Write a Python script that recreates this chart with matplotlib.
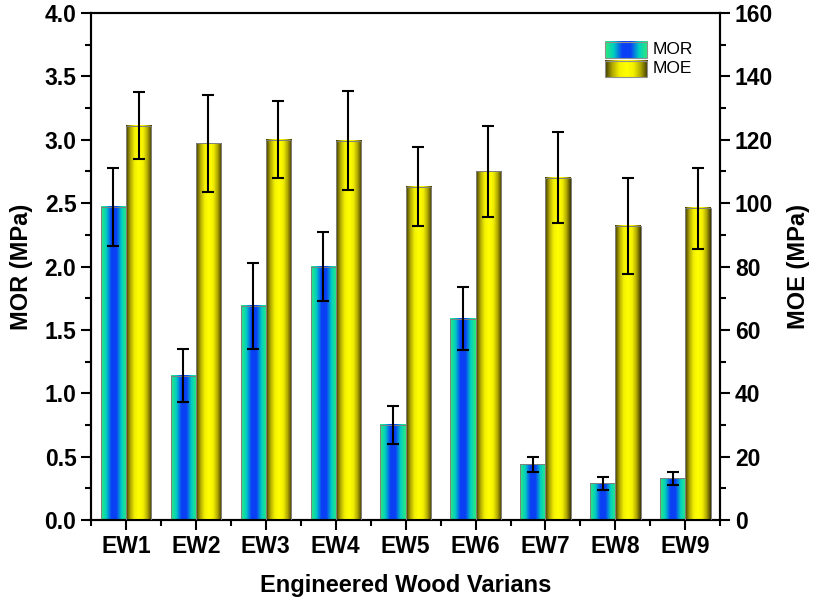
import numpy as np
import matplotlib.pyplot as plt
from matplotlib.colors import LinearSegmentedColormap
from matplotlib.ticker import MultipleLocator

plt.rcParams['font.family'] = ['Liberation Sans', 'DejaVu Sans']

groups = ['EW1', 'EW2', 'EW3', 'EW4', 'EW5', 'EW6', 'EW7', 'EW8', 'EW9']
mor = [2.47, 1.14, 1.69, 2.00, 0.75, 1.59, 0.44, 0.29, 0.33]
mor_err = [0.31, 0.21, 0.34, 0.27, 0.15, 0.25, 0.06, 0.05, 0.05]
moe = [124.4, 118.8, 120.0, 119.6, 105.2, 110.0, 108.0, 92.8, 98.4]
moe_err = [10.5, 15.2, 12.2, 15.6, 12.4, 14.4, 14.4, 15.2, 12.8]

mor_cmap = LinearSegmentedColormap.from_list(
    'mor', ['#30ea78', '#00d0c0', '#0a40f5', '#0a40f5', '#00d0c0', '#30ea78'])
moe_cmap = LinearSegmentedColormap.from_list(
    'moe', ['#3c3600', '#b0a800', '#f4f000', '#ffff00', '#f4f000',
            '#b0a800', '#3c3600'])
grad = np.linspace(0, 1, 128).reshape(1, -1)

width = 0.36


def gradient_bars(ax, xs, heights, cmap):
    for x, h in zip(xs, heights):
        ax.imshow(grad, extent=[x, x + width, 0, h], aspect='auto',
                  cmap=cmap, interpolation='bilinear', zorder=2)
        ax.add_patch(plt.Rectangle((x, 0), width, h, fill=False,
                                   edgecolor='#808080', lw=0.7, zorder=3))


fig = plt.figure(figsize=(8.27, 6.12), dpi=100)
ax = fig.add_axes([0.110, 0.150, 0.761, 0.829])
ax2 = ax.twinx()

x = np.arange(len(groups))
gradient_bars(ax, x - width, mor, mor_cmap)
gradient_bars(ax2, x, moe, moe_cmap)

ax.errorbar(x - width / 2, mor, yerr=mor_err, fmt='none', ecolor='black',
            elinewidth=1.5, capsize=4.5, capthick=1.5, zorder=4)
ax2.errorbar(x + width / 2, moe, yerr=moe_err, fmt='none', ecolor='black',
             elinewidth=1.5, capsize=4.5, capthick=1.5, zorder=4)

ax.set_xticks(x)
ax.set_xticklabels(groups)
ax.xaxis.set_minor_locator(MultipleLocator(1, offset=0.5))
ax.yaxis.set_major_locator(MultipleLocator(0.5))
ax.yaxis.set_minor_locator(MultipleLocator(0.25))
ax2.yaxis.set_major_locator(MultipleLocator(20))
ax2.yaxis.set_minor_locator(MultipleLocator(10))

for a in (ax, ax2):
    a.tick_params(which='major', direction='out', length=7, width=1.5,
                  labelsize=16.5)
    a.tick_params(which='minor', direction='out', length=4, width=1.5)
    for lab in a.get_xticklabels() + a.get_yticklabels():
        lab.set_fontweight('bold')
    for s in a.spines.values():
        s.set_linewidth(1.5)

ax.set_ylabel('MOR (MPa)', fontsize=17, fontweight='bold', labelpad=8)
ax2.set_ylabel('MOE (MPa)', fontsize=17, fontweight='bold', labelpad=10)
ax.set_xlabel('Engineered Wood Varians', fontsize=17, fontweight='bold',
              labelpad=12)

# legend drawn by hand so the swatches can carry the gradients
for cmap, label, y0, y1 in [(mor_cmap, 'MOR', 0.911, 0.943),
                            (moe_cmap, 'MOE', 0.874, 0.906)]:
    ax2.imshow(grad, extent=[0.817, 0.884, y0, y1], transform=ax2.transAxes,
               aspect='auto', cmap=cmap, interpolation='bilinear', zorder=5)
    ax2.add_patch(plt.Rectangle((0.817, y0), 0.067, y1 - y0, fill=False,
                                edgecolor='#909090', lw=0.8,
                                transform=ax2.transAxes, zorder=6))
    ax2.text(0.893, (y0 + y1) / 2, label, transform=ax2.transAxes,
             fontsize=12.5, va='center', ha='left')

ax.set_xlim(-0.5, 8.5)
ax.set_ylim(0, 4.0)
ax2.set_ylim(0, 160)

fig.savefig('out.png', dpi=100)
